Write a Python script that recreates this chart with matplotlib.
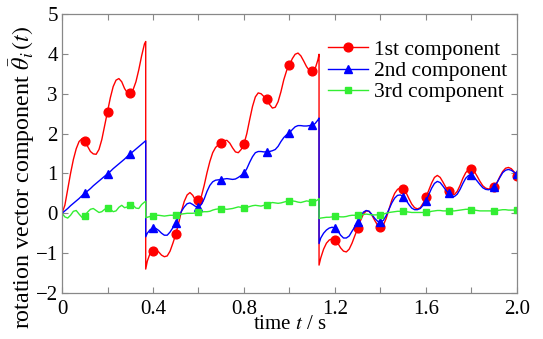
import numpy as np
import matplotlib
matplotlib.use("Agg")
import matplotlib.pyplot as plt
from matplotlib.ticker import MultipleLocator, FixedLocator

# ---------------- data ----------------
STEP = 0.0125
T_END = 2.0
JUMP_TIMES = [0.368, 1.13]

labels = ["1st component", "2nd component", "3rd component"]

# 1st component: three segments (before 1st jump, between jumps, after 2nd jump)
red_seg1 = [0, 0.2, 0.6, 1.0, 1.35, 1.62, 1.8, 1.87,
            1.82, 1.68, 1.55, 1.49, 1.48, 1.6, 1.85, 2.2,
            2.55, 2.9, 3.18, 3.34, 3.38, 3.3, 3.13, 3.02,
            3.01, 3.1, 3.3, 3.6, 3.95, 4.25,
            4.31]
red_seg2 = [-1.4,
            -1.2, -1.0, -0.94, -0.92, -0.97, -1.05, -1.09, -1.07,
            -0.95, -0.75, -0.53, -0.25, 0.05, 0.3, 0.46, 0.52,
            0.45, 0.32, 0.33, 0.42, 0.7, 1.02, 1.3, 1.52,
            1.65, 1.72, 1.76, 1.82, 1.83, 1.76, 1.64, 1.54,
            1.52, 1.6, 1.74, 2.0, 2.35, 2.68, 2.92, 3.02,
            3.0, 2.93, 2.86, 2.73, 2.64, 2.66, 2.8, 3.05,
            3.35, 3.58, 3.72, 3.88, 3.99, 4.02, 3.95, 3.82,
            3.68, 3.58, 3.56, 3.62, 3.85,
            3.99]
red_seg3 = [-1.3,
            -1.12, -0.9, -0.75, -0.67, -0.64, -0.66, -0.75, -0.87,
            -0.95, -0.97, -0.9, -0.75, -0.56, -0.38, -0.18, -0.02,
            0.06, 0.05, -0.05, -0.18, -0.3, -0.35, -0.3, -0.13,
            0.1, 0.33, 0.5, 0.6, 0.64, 0.62, 0.52, 0.37,
            0.23, 0.14, 0.11, 0.14, 0.25, 0.4, 0.58, 0.76,
            0.9, 0.95, 0.9, 0.78, 0.65, 0.55, 0.48, 0.47,
            0.55, 0.7, 0.88, 1.02, 1.1, 1.11, 1.05, 0.93,
            0.8, 0.69, 0.63, 0.61, 0.62, 0.66, 0.77, 0.92,
            1.05, 1.13, 1.15, 1.12, 1.04, 0.93]

blue_seg1 = [0, 0.06, 0.12, 0.19, 0.25, 0.31, 0.37, 0.44,
             0.5, 0.56, 0.62, 0.69, 0.75, 0.81, 0.87, 0.93,
             0.99, 1.05, 1.12, 1.18, 1.24, 1.3, 1.36, 1.43,
             1.49, 1.55, 1.61, 1.67, 1.73, 1.79,
             1.82]
blue_seg2 = [-0.59,
             -0.5, -0.41, -0.38, -0.38, -0.43, -0.5, -0.55, -0.55,
             -0.47, -0.36, -0.24, -0.1, 0.05, 0.16, 0.24, 0.26,
             0.22, 0.17, 0.16, 0.22, 0.36, 0.55, 0.7, 0.79,
             0.83, 0.84, 0.84, 0.86, 0.87, 0.86, 0.85, 0.86,
             0.9, 0.95, 1.0, 1.12, 1.28, 1.42, 1.52, 1.55,
             1.55, 1.54, 1.54, 1.55, 1.57, 1.6, 1.68, 1.8,
             1.9, 1.97, 2.02, 2.1, 2.17, 2.2, 2.2, 2.19,
             2.19, 2.2, 2.21, 2.25, 2.34,
             2.39]
blue_seg3 = [-0.76,
             -0.62, -0.5, -0.42, -0.37, -0.35, -0.37, -0.44, -0.55,
             -0.62, -0.62, -0.57, -0.45, -0.34, -0.22, -0.08, 0.03,
             0.07, 0.05, -0.03, -0.13, -0.2, -0.22, -0.18, -0.06,
             0.1, 0.26, 0.38, 0.45, 0.46, 0.42, 0.33, 0.22,
             0.13, 0.09, 0.09, 0.12, 0.2, 0.3, 0.47, 0.63,
             0.75, 0.8, 0.77, 0.68, 0.58, 0.5, 0.44, 0.42,
             0.48, 0.6, 0.75, 0.88, 0.95, 0.95, 0.9, 0.81,
             0.72, 0.64, 0.6, 0.59, 0.61, 0.66, 0.77, 0.9,
             1.02, 1.08, 1.1, 1.08, 1.03, 0.98]

green_seg1 = [0, -0.09, -0.12, -0.05, 0.05, 0.07, -0.02, -0.1,
              -0.06, 0.03, 0.1, 0.12, 0.07, 0.02, 0.04, 0.1,
              0.14, 0.1, 0.04, 0.06, 0.15, 0.2, 0.14, 0.16,
              0.22, 0.2, 0.13, 0.12, 0.22, 0.28,
              0.3]
green_seg2 = [-0.11,
              -0.1, -0.08, -0.06, -0.05, -0.05, -0.06, -0.07, -0.06,
              -0.05, -0.05, -0.05, -0.03, -0.02, -0.01, 0.0, 0.0,
              0.0, 0.01, 0.02, 0.03, 0.04, 0.04, 0.05, 0.08,
              0.1, 0.11, 0.12, 0.11, 0.1, 0.11, 0.12, 0.14,
              0.16, 0.15, 0.14, 0.15, 0.17, 0.19, 0.2, 0.19,
              0.18, 0.2, 0.22, 0.25, 0.27, 0.26, 0.25, 0.26,
              0.28, 0.3, 0.32, 0.31, 0.3, 0.28, 0.27, 0.29,
              0.31, 0.3, 0.28, 0.3, 0.34,
              0.37]
green_seg3 = [-0.13,
              -0.12, -0.11, -0.1, -0.1, -0.09, -0.08, -0.08, -0.09,
              -0.09, -0.08, -0.06, -0.05, -0.05, -0.05, -0.04, -0.03,
              -0.02, -0.03, -0.04, -0.04, -0.04, -0.04, -0.02, 0.0,
              0.02, 0.03, 0.04, 0.05, 0.05, 0.05, 0.04, 0.03,
              0.02, 0.02, 0.02, 0.02, 0.02, 0.02, 0.03, 0.05,
              0.06, 0.07, 0.07, 0.06, 0.06, 0.06, 0.06, 0.06,
              0.07, 0.08, 0.09, 0.1, 0.1, 0.09, 0.08, 0.07,
              0.06, 0.06, 0.06, 0.06, 0.06, 0.06, 0.07, 0.08,
              0.09, 0.09, 0.08, 0.08, 0.08, 0.08]

x_tick_values = [0, 0.4, 0.8, 1.2, 1.6, 2.0]
x_tick_labels = ["0", "0.4", "0.8", "1.2", "1.6", "2.0"]
y_tick_values = [-2, -1, 0, 1, 2, 3, 4, 5]

# ---------------- time grid ----------------
grid = np.round(np.arange(0, T_END + STEP / 2, STEP), 6)
j1, j2 = JUMP_TIMES
t1 = np.concatenate([grid[grid < j1], [j1]])
t2 = np.concatenate([[j1], grid[(grid > j1) & (grid < j2)], [j2]])
t3 = np.concatenate([[j2], grid[grid > j2]])
T = np.concatenate([t1, t2, t3])

def join(a, b, c):
    assert len(a) == len(t1) and len(b) == len(t2) and len(c) == len(t3), (len(a), len(b), len(c))
    return np.array(a + b + c, dtype=float)

red = join(red_seg1, red_seg2, red_seg3)
blue = join(blue_seg1, blue_seg2, blue_seg3)
green = join(green_seg1, green_seg2, green_seg3)

is_jump = np.isin(T, JUMP_TIMES)
mark_idx = [i for i, t in enumerate(T)
            if t > 0 and not is_jump[i] and abs(t / 0.1 - round(t / 0.1)) < 1e-6]

# ---------------- plot ----------------
plt.rcParams['font.family'] = ['Liberation Serif', 'DejaVu Serif']
plt.rcParams['mathtext.fontset'] = 'stix'

fig = plt.figure(figsize=(5.43, 3.39), dpi=100)
ax = fig.add_axes([0.1142, 0.1357, 0.8378, 0.823])

ax.plot(T, red, color='#ff0000', lw=1.0, marker='o', ms=6.3, markevery=mark_idx, label=labels[0])
ax.plot(T, blue, color='#0000ff', lw=1.0, marker='^', ms=6.3, markevery=mark_idx, label=labels[1])
ax.plot(T, green, color='#33ee33', lw=1.0, marker='s', ms=5, markevery=mark_idx, label=labels[2])

ax.set_xlim(0, 2.0)
ax.set_ylim(-2, 5)
ax.xaxis.set_major_locator(FixedLocator(x_tick_values))
ax.set_xticklabels(x_tick_labels)
ax.xaxis.set_minor_locator(MultipleLocator(0.2))
ax.set_yticks(y_tick_values)

for s in ax.spines.values():
    s.set_color('#888888')
    s.set_linewidth(0.9)
ax.tick_params(which='both', direction='in', top=True, right=True, length=4,
               color='#888888', width=0.8, labelsize=15, labelcolor='black')
ax.tick_params(axis='x', which='both', pad=5)
ax.tick_params(axis='y', which='both', pad=3)

ax.set_xlabel("time $t$ / s", fontsize=15, labelpad=-3)
ax.set_ylabel(r"rotation vector component $\bar{\theta}_i\,(t)$", fontsize=17.3)
ax.yaxis.set_label_coords(-0.056, 0.413)

leg = ax.legend(loc='upper left', bbox_to_anchor=(0.585, 0.907), frameon=False, fontsize=15.5,
                handlelength=1.85, handletextpad=0.3, labelspacing=0.05,
                borderaxespad=0.0, borderpad=0.0)

fig.savefig("out.png", dpi=100)
